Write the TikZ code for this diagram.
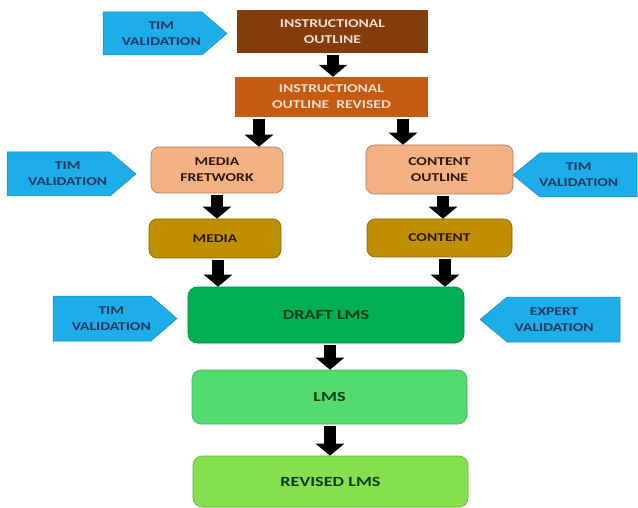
\documentclass[tikz,border=0pt]{standalone}
\usepackage{fontspec}
\newfontfamily\bxf{Carlito Bold}[FakeStretch=1.3]
\usetikzlibrary{arrows.meta}
\definecolor{iobrown}{HTML}{843C0C}
\definecolor{revorange}{HTML}{C55A11}
\definecolor{peach}{HTML}{F4B183}
\definecolor{gold}{HTML}{BF8F00}
\definecolor{draftgreen}{HTML}{00B050}
\definecolor{lmsgreen}{HTML}{53DC6E}
\definecolor{revgreen}{HTML}{84E04C}
\definecolor{tblue}{HTML}{1DADE8}
\definecolor{navy}{HTML}{1F3864}
\definecolor{lighttxt}{HTML}{F6DED2}
\definecolor{darktxt}{HTML}{2E1608}
\definecolor{dgtxt}{HTML}{0B3A1A}
\tikzset{
  base/.style={align=center, inner sep=0pt, font=\bxf\fontsize{12}{16}\selectfont},
  sqbox/.style={base, rectangle, text=lighttxt},
  rbox/.style={base, rectangle, rounded corners=8pt, draw=#1!70!black, line width=0.6pt, text=darktxt},
  gbox/.style={base, rectangle, rounded corners=9pt, draw=#1!80!black, line width=0.6pt, text=dgtxt, font=\bxf\fontsize{14}{16}\selectfont},
  vshape/.style={fill=tblue, draw=tblue!80!black, line width=0.5pt},
  vtext/.style={base, text=navy},
  barrow/.style={line width=12pt, draw=black, shorten <=2pt, -{Triangle[length=12pt,width=28pt]}}
}
% name, back edge x, bevel x, tip x, top y, bottom y, text
\newcommand{\vsig}[7]{%
  \path[vshape] (#2,#5) -- (#3,#5) -- (#4,{(#5+#6)/2}) -- (#3,#6) -- (#2,#6) -- cycle;
  \node[vtext] (#1) at ({(#2+#4)/2+(#2-#4)*0.03},{(#5+#6)/2}) {#7};}
\begin{document}
\begin{tikzpicture}[x=1pt,y=-1pt]
\useasboundingbox (0,0) rectangle (638,508);
\fill[white] (0,0) rectangle (638,508);
% main boxes
\node[sqbox, fill=iobrown, minimum width=191pt, minimum height=43pt] (io) at (332.5,31.5) {INSTRUCTIONAL\\OUTLINE};
\node[sqbox, fill=revorange, minimum width=193pt, minimum height=40pt] (rev) at (331.5,97) {INSTRUCTIONAL\\OUTLINE\ \ REVISED};
\node[rbox=peach, fill=peach, minimum width=132pt, minimum height=46pt] (mf) at (217,170) {MEDIA\\FRETWORK};
\node[rbox=peach, fill=peach, minimum width=147pt, minimum height=49pt] (co) at (439.5,169.5) {CONTENT\\OUTLINE};
\node[rbox=gold, fill=gold, minimum width=132pt, minimum height=39pt] (media) at (215,238.5) {MEDIA};
\node[rbox=gold, fill=gold, minimum width=145pt, minimum height=38pt] (content) at (439.5,238) {CONTENT};
\node[gbox=draftgreen, fill=draftgreen, minimum width=276pt, minimum height=56pt] (draft) at (326,315) {DRAFT LMS};
\node[gbox=lmsgreen, fill=lmsgreen, minimum width=275pt, minimum height=54pt] (lms) at (329.5,397) {LMS};
\node[gbox=revgreen, fill=revgreen, minimum width=275pt, minimum height=51pt] (rlms) at (330.5,481.5) {REVISED LMS};
% validation signals
\vsig{v1}{103}{202}{227}{12}{55}{TIM\\VALIDATION}
\vsig{v2}{7}{110}{136}{152}{196}{TIM\\VALIDATION}
\vsig{v3}{637}{540}{513}{153}{197}{TIM\\VALIDATION}
\vsig{v4}{53}{151}{177}{296}{341}{TIM\\VALIDATION}
\vsig{v5}{620}{507}{480}{297}{342}{EXPERT\\VALIDATION}
% arrow columns
\coordinate (c1) at (333,0);
\coordinate (c2) at (259,0);
\coordinate (c3) at (403,0);
\coordinate (c4) at (217,0);
\coordinate (c5) at (443,0);
\coordinate (c6) at (218,0);
\coordinate (c7) at (445,0);
\coordinate (c8) at (330,0);
% block arrows
\draw[barrow] (io.south -| c1) -- (rev.north -| c1);
\draw[barrow] (rev.south -| c2) -- (mf.north -| c2);
\draw[barrow] (rev.south -| c3) -- (co.north -| c3);
\draw[barrow] (mf.south -| c4) -- (media.north -| c4);
\draw[barrow] (co.south -| c5) -- (content.north -| c5);
\draw[barrow] (media.south -| c6) -- (draft.north -| c6);
\draw[barrow] (content.south -| c7) -- (draft.north -| c7);
\draw[barrow] (draft.south -| c8) -- (lms.north -| c8);
\draw[barrow] (lms.south -| c8) -- (rlms.north -| c8);
\end{tikzpicture}
\end{document}
